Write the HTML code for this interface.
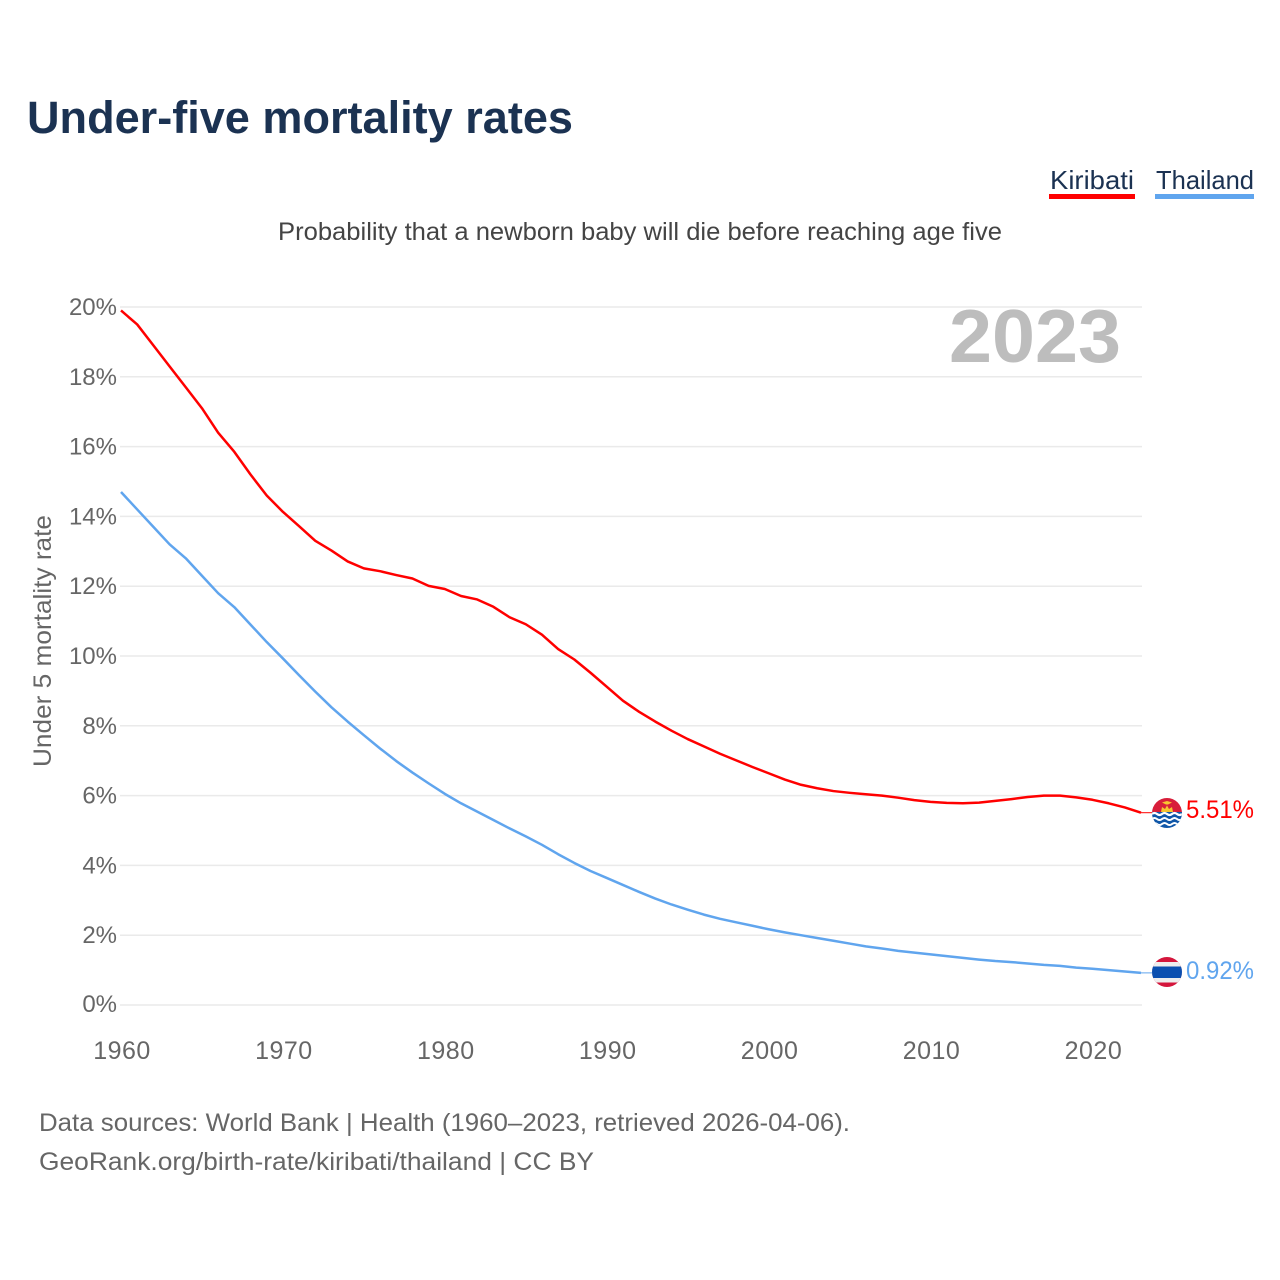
<!DOCTYPE html>
<html lang="en">
<head>
<meta charset="utf-8">
<title>Under-five mortality rates</title>
<style>
html,body{margin:0;padding:0;background:#fff;}
svg{display:block;font-family:"Liberation Sans",sans-serif;}
</style>
</head>
<body>
<svg id="chart" width="1280" height="1280" viewBox="0 0 1280 1280" xmlns="http://www.w3.org/2000/svg">
  <defs>
    <clipPath id="flag-clip-k"><circle cx="1167" cy="813" r="15"/></clipPath>
    <clipPath id="flag-clip-t"><circle cx="1167" cy="972" r="15"/></clipPath>
  </defs>
  <rect width="1280" height="1280" fill="#fff"/>
  <text x="27" y="133" font-size="45" font-weight="700" fill="#1b3252" textLength="546" lengthAdjust="spacingAndGlyphs">Under-five mortality rates</text>

  <g>
    <g>
      <text x="1050" y="189" font-size="26" fill="#1b3252" textLength="84" lengthAdjust="spacingAndGlyphs">Kiribati</text>
      <rect x="1049" y="194" width="86" height="5" fill="#ff0000"/>
    </g>
    <g>
      <text x="1156" y="189" font-size="26" fill="#1b3252" textLength="98" lengthAdjust="spacingAndGlyphs">Thailand</text>
      <rect x="1155" y="194" width="99" height="5" fill="#60a5ee"/>
    </g>
  </g>

  <text x="278" y="240" font-size="25" fill="#444" textLength="724" lengthAdjust="spacingAndGlyphs">Probability that a newborn baby will die before reaching age five</text>
  <text transform="translate(51,767) rotate(-90)" x="0" y="0" font-size="25" fill="#666" textLength="252" lengthAdjust="spacingAndGlyphs">Under 5 mortality rate</text>
  <text x="949" y="362" font-size="75" font-weight="700" fill="#bdbdbd" textLength="172" lengthAdjust="spacingAndGlyphs">2023</text>

  <g id="grid"></g>
  <g id="y-labels"></g>
  <g id="x-labels"></g>
  <g id="series"></g>

  <g clip-path="url(#flag-clip-k)">
    <rect x="1152" y="798" width="30" height="15" fill="#d81e3a"/>
    <path d="M1161 812 L1162 807 L1165 809 L1167 805.5 L1169 809 L1172 807 L1173 812 Z" fill="#f7c531"/>
    <path d="M1162 802.5 L1167 801 L1172 802.5 L1168 804.5 L1166 804.5 Z" fill="#f7c531"/>
    <rect x="1152" y="812" width="30" height="16" fill="#0f56a8"/>
    <path d="M1152 814 q2.5-2 5 0 t5 0 t5 0 t5 0 t5 0 t5 0" fill="none" stroke="#fff" stroke-width="2.2"/>
    <path d="M1152 819 q2.5-2 5 0 t5 0 t5 0 t5 0 t5 0 t5 0" fill="none" stroke="#fff" stroke-width="2"/>
    <path d="M1152 824 q2.5-2 5 0 t5 0 t5 0 t5 0 t5 0 t5 0" fill="none" stroke="#fff" stroke-width="2"/>
  </g>
  <g clip-path="url(#flag-clip-t)">
    <rect x="1152" y="957" width="30" height="30" fill="#d4163c"/>
    <rect x="1152" y="962" width="30" height="20.5" fill="#eeeeee"/>
    <rect x="1152" y="966.5" width="30" height="11.5" fill="#0b4fb0"/>
  </g>

  <text id="value-kiribati" x="1186" y="818" font-size="25" fill="#ff0000" textLength="68" lengthAdjust="spacingAndGlyphs"></text>
  <text id="value-thailand" x="1186" y="979" font-size="25" fill="#60a5ee" textLength="68" lengthAdjust="spacingAndGlyphs"></text>

  <text x="39" y="1131" font-size="25" fill="#666" textLength="811" lengthAdjust="spacingAndGlyphs">Data sources: World Bank | Health (1960–2023, retrieved 2026-04-06).</text>
  <text x="39" y="1170" font-size="25" fill="#666" textLength="555" lengthAdjust="spacingAndGlyphs">GeoRank.org/birth-rate/kiribati/thailand | CC BY</text>
</svg>
<script>
const years = [1960,1961,1962,1963,1964,1965,1966,1967,1968,1969,1970,1971,1972,1973,1974,1975,1976,1977,1978,1979,1980,1981,1982,1983,1984,1985,1986,1987,1988,1989,1990,1991,1992,1993,1994,1995,1996,1997,1998,1999,2000,2001,2002,2003,2004,2005,2006,2007,2008,2009,2010,2011,2012,2013,2014,2015,2016,2017,2018,2019,2020,2021,2022,2023];
const kiribati = [19.9,19.5,18.9,18.3,17.7,17.1,16.4,15.85,15.2,14.6,14.13,13.72,13.3,13.02,12.71,12.51,12.43,12.32,12.22,12.01,11.92,11.72,11.62,11.41,11.11,10.91,10.61,10.2,9.9,9.52,9.12,8.72,8.4,8.12,7.86,7.62,7.41,7.2,7.01,6.82,6.64,6.46,6.31,6.21,6.13,6.08,6.04,6.0,5.94,5.87,5.82,5.79,5.78,5.8,5.85,5.9,5.96,6.0,6.0,5.95,5.88,5.78,5.66,5.51];
const thailand = [14.7,14.2,13.7,13.2,12.8,12.3,11.8,11.4,10.9,10.4,9.93,9.45,8.98,8.53,8.12,7.73,7.35,6.99,6.66,6.35,6.05,5.78,5.54,5.3,5.06,4.83,4.59,4.32,4.07,3.84,3.64,3.44,3.24,3.05,2.88,2.73,2.59,2.47,2.37,2.27,2.17,2.08,2.0,1.92,1.84,1.76,1.68,1.62,1.55,1.5,1.45,1.4,1.35,1.3,1.26,1.23,1.19,1.15,1.12,1.07,1.04,1.0,0.96,0.92];
const yTicks = [0,2,4,6,8,10,12,14,16,18,20];
const xTicks = [1960,1970,1980,1990,2000,2010,2020];

const NS = 'http://www.w3.org/2000/svg';
const xScale = function (year) { return 121 + (year - 1960) * (1020 / 63); };
const yScale = function (value) { return 1005 - value * 34.9; };
const gridGroup = document.getElementById('grid');
const yLabelGroup = document.getElementById('y-labels');
const xLabelGroup = document.getElementById('x-labels');
const seriesGroup = document.getElementById('series');

yTicks.forEach(function (tick) {
  const line = document.createElementNS(NS, 'line');
  
  
  line.setAttribute('x1', 120);
  line.setAttribute('x2', 1142);
  line.setAttribute('y1', yScale(tick));
  line.setAttribute('y2', yScale(tick));
  line.setAttribute('stroke', '#eaeaea');
  line.setAttribute('stroke-width', 1.5);
  gridGroup.appendChild(line);

  const label = document.createElementNS(NS, 'text');
  
  
  label.setAttribute('x', 117);
  label.setAttribute('y', yScale(tick) + 8 - (tick === 0 ? 1 : 0));
  label.setAttribute('text-anchor', 'end');
  label.setAttribute('font-size', 24);
  label.setAttribute('fill', '#666');
  label.textContent = tick + '%';
  yLabelGroup.appendChild(label);
});

xTicks.forEach(function (tick) {
  const label = document.createElementNS(NS, 'text');
  
  
  label.setAttribute('x', xScale(tick) + 1);
  label.setAttribute('y', 1059);
  label.setAttribute('text-anchor', 'middle');
  label.setAttribute('font-size', 25);
  label.setAttribute('letter-spacing', '0.5');
  label.setAttribute('fill', '#666');
  label.textContent = String(tick);
  xLabelGroup.appendChild(label);
});

function drawSeries(values, color) {
  const points = values.map(function (value, i) {
    return (i ? 'L' : 'M') + xScale(years[i]).toFixed(2) + ' ' + yScale(value).toFixed(2);
  });
  const path = document.createElementNS(NS, 'path');
  
  
  path.setAttribute('d', points.join(' '));
  path.setAttribute('fill', 'none');
  path.setAttribute('stroke', color);
  path.setAttribute('stroke-width', 2.5);
  path.setAttribute('stroke-linejoin', 'round');
  seriesGroup.appendChild(path);

  const lastValue = values[values.length - 1];
  const connector = document.createElementNS(NS, 'line');
  
  
  connector.setAttribute('x1', xScale(years[years.length - 1]));
  connector.setAttribute('x2', 1153);
  connector.setAttribute('y1', yScale(lastValue));
  connector.setAttribute('y2', yScale(lastValue));
  connector.setAttribute('stroke', color);
  connector.setAttribute('stroke-width', 1);
  seriesGroup.appendChild(connector);
}
drawSeries(kiribati, '#ff0000');
drawSeries(thailand, '#60a5ee');

document.getElementById('value-kiribati').textContent = kiribati[kiribati.length - 1].toFixed(2) + '%';
document.getElementById('value-thailand').textContent = thailand[thailand.length - 1].toFixed(2) + '%';
</script>
</body>
</html>
